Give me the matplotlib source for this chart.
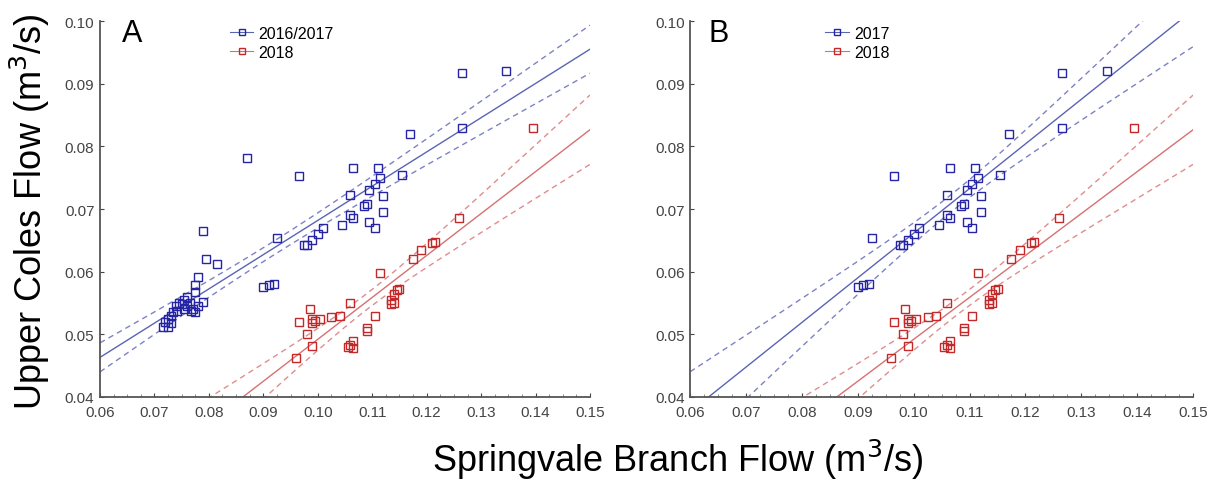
import numpy as np
import matplotlib.pyplot as plt
from matplotlib.ticker import MultipleLocator

plt.rcParams['font.family'] = ['Liberation Sans', 'DejaVu Sans']

# 2016 points (only in panel A)
x_2016 = [0.087, 0.079, 0.0795, 0.0815, 0.078, 0.0775, 0.0775, 0.076, 0.0755, 0.075,
          0.0745, 0.074, 0.076, 0.077, 0.0775, 0.078, 0.079, 0.0735, 0.073, 0.0725,
          0.072, 0.0715, 0.0725, 0.073, 0.0765, 0.0755, 0.0768, 0.0742]
y_2016 = [0.0782, 0.0665, 0.0620, 0.0612, 0.0592, 0.0578, 0.0568, 0.0560, 0.0555, 0.0548,
          0.0550, 0.0545, 0.0545, 0.0540, 0.0535, 0.0545, 0.0552, 0.0535, 0.0530, 0.0525,
          0.0520, 0.0512, 0.0512, 0.0518, 0.0550, 0.0540, 0.0537, 0.0538]

# 2017 points
x_2017 = [0.1345, 0.1265, 0.1265, 0.117, 0.0965, 0.1155, 0.1065, 0.111, 0.1115, 0.1105,
          0.1095, 0.112, 0.106, 0.109, 0.1085, 0.112, 0.106, 0.1065, 0.1045, 0.1095,
          0.1105, 0.101, 0.100, 0.099, 0.098, 0.0975, 0.0925, 0.090, 0.091, 0.092]
y_2017 = [0.0920, 0.0917, 0.0830, 0.0820, 0.0753, 0.0755, 0.0765, 0.0765, 0.0750, 0.0740,
          0.0730, 0.0720, 0.0722, 0.0708, 0.0705, 0.0695, 0.0690, 0.0685, 0.0675, 0.0680,
          0.0670, 0.0670, 0.0660, 0.0650, 0.0643, 0.0642, 0.0653, 0.0575, 0.0578, 0.0580]

# 2018 points
x_2018 = [0.1395, 0.126, 0.1215, 0.121, 0.119, 0.1175, 0.1115, 0.1145, 0.114, 0.1135,
          0.114, 0.1135, 0.115, 0.106, 0.1105, 0.104, 0.1025, 0.109, 0.109, 0.1065,
          0.106, 0.1065, 0.1055, 0.0985, 0.0965, 0.099, 0.0995, 0.1005, 0.099, 0.098,
          0.099, 0.096]
y_2018 = [0.0830, 0.0685, 0.0648, 0.0645, 0.0635, 0.0620, 0.0598, 0.0570, 0.0565, 0.0555,
          0.0550, 0.0548, 0.0572, 0.0550, 0.0530, 0.0530, 0.0528, 0.0510, 0.0505, 0.0490,
          0.0483, 0.0478, 0.0480, 0.0540, 0.0520, 0.0525, 0.0522, 0.0525, 0.0518, 0.0500,
          0.0482, 0.0462]

BLUE = '#2424a4'
RED = '#c42828'
BLUE_LINE = '#5a64b4'
RED_LINE = '#d87070'


def fit_lines(ax, x, y, col, t=2.0):
    x = np.asarray(x)
    y = np.asarray(y)
    n = len(x)
    b, a = np.polyfit(x, y, 1)
    resid = y - (a + b * x)
    s = np.sqrt(np.sum(resid ** 2) / (n - 2))
    sxx = np.sum((x - x.mean()) ** 2)
    xx = np.linspace(0.06, 0.15, 200)
    yy = a + b * xx
    ci = t * s * np.sqrt(1.0 / n + (xx - x.mean()) ** 2 / sxx)
    ax.plot(xx, yy, color=col, lw=1.0)
    ax.plot(xx, yy + ci, color=col, lw=1.0, ls=(0, (4, 3)), alpha=0.8)
    ax.plot(xx, yy - ci, color=col, lw=1.0, ls=(0, (4, 3)), alpha=0.8)


def setup(ax, letter, lx):
    ax.set_xlim(0.06, 0.15)
    ax.set_ylim(0.04, 0.10)
    ax.xaxis.set_major_locator(MultipleLocator(0.01))
    ax.yaxis.set_major_locator(MultipleLocator(0.01))
    ax.xaxis.set_minor_locator(MultipleLocator(0.0025))
    ax.xaxis.set_major_formatter(plt.FormatStrFormatter('%.2f'))
    ax.yaxis.set_major_formatter(plt.FormatStrFormatter('%.2f'))
    ax.spines['top'].set_visible(False)
    ax.spines['right'].set_visible(False)
    for sp in ['left', 'bottom']:
        ax.spines[sp].set_color('#555555')
        ax.spines[sp].set_linewidth(1.3)
    ax.tick_params(direction='in', length=3, labelsize=11, colors='#444444', pad=6)
    ax.tick_params(axis='y', pad=4)
    ax.tick_params(which='minor', direction='in', length=2, colors='#777777')
    ax.text(lx, 0.0981, letter, fontsize=22, ha='left', va='center')


fig = plt.figure(figsize=(12.15, 4.85), dpi=100)
axA = fig.add_axes([0.0823, 0.1794, 0.4033, 0.7752])
axB = fig.add_axes([0.568, 0.1794, 0.414, 0.7752])

# Panel A
x_blue_A = x_2016 + x_2017
y_blue_A = y_2016 + y_2017
fit_lines(axA, x_blue_A, y_blue_A, BLUE_LINE)
fit_lines(axA, x_2018, y_2018, RED_LINE)
axA.plot(x_blue_A, y_blue_A, ls='none', marker='s', ms=6, mfc='none', mec=BLUE, mew=1.0)
axA.plot(x_2018, y_2018, ls='none', marker='s', ms=6, mfc='none', mec=RED, mew=1.0)
hA1, = axA.plot([], [], color=BLUE_LINE, marker='s', ms=5, mfc='none', mec=BLUE, lw=0.8)
hA2, = axA.plot([], [], color=RED_LINE, marker='s', ms=5, mfc='none', mec=RED, lw=0.8)
axA.legend([hA1, hA2], ['2016/2017', '2018'], loc='upper left', bbox_to_anchor=(0.235, 1.025),
           frameon=False, fontsize=11.5, handlelength=1.5, handletextpad=0.3, labelspacing=0.25)
setup(axA, 'A', 0.064)

# Panel B
fit_lines(axB, x_2017, y_2017, BLUE_LINE)
fit_lines(axB, x_2018, y_2018, RED_LINE)
axB.plot(x_2017, y_2017, ls='none', marker='s', ms=6, mfc='none', mec=BLUE, mew=1.0)
axB.plot(x_2018, y_2018, ls='none', marker='s', ms=6, mfc='none', mec=RED, mew=1.0)
hB1, = axB.plot([], [], color=BLUE_LINE, marker='s', ms=5, mfc='none', mec=BLUE, lw=0.8)
hB2, = axB.plot([], [], color=RED_LINE, marker='s', ms=5, mfc='none', mec=RED, lw=0.8)
axB.legend([hB1, hB2], ['2017', '2018'], loc='upper left', bbox_to_anchor=(0.24, 1.025),
           frameon=False, fontsize=11.5, handlelength=1.5, handletextpad=0.3, labelspacing=0.25)
setup(axB, 'B', 0.0632)

fig.text(0.025, 0.563, 'Upper Coles Flow (m$^3$/s)', rotation=90, fontsize=26,
         ha='center', va='center')
fig.text(0.558, 0.052, 'Springvale Branch Flow (m$^3$/s)', fontsize=26, ha='center', va='center')

fig.savefig('out.png', dpi=100)
